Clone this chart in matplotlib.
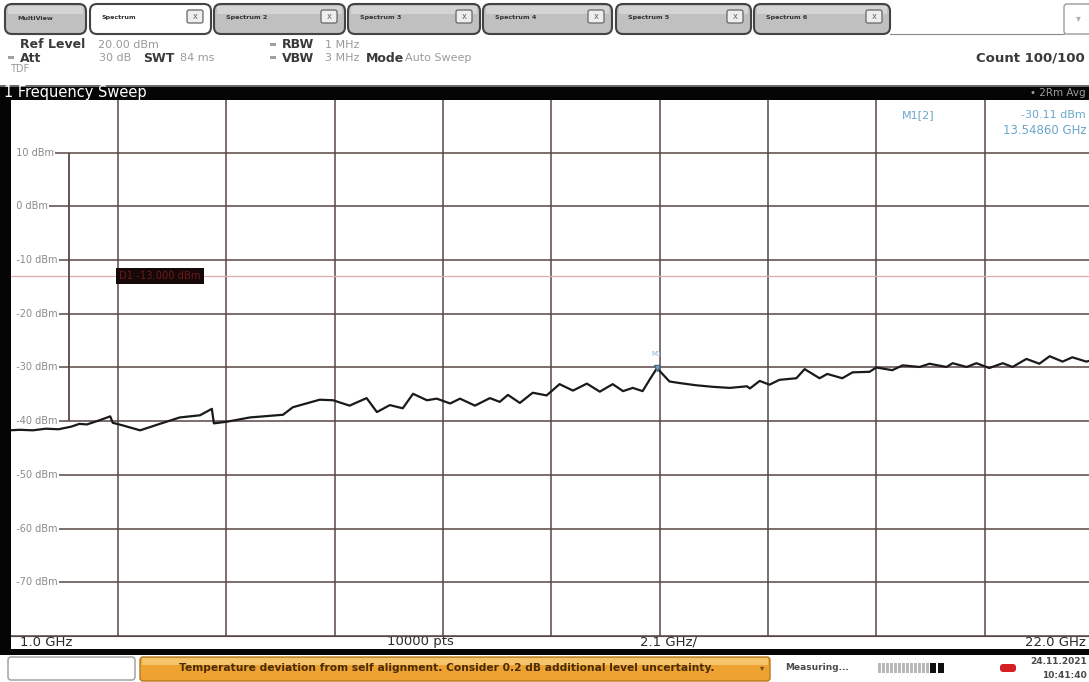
import matplotlib
matplotlib.use("Agg")
import matplotlib.pyplot as plt
from matplotlib.patches import Rectangle, FancyBboxPatch

# ---- sweep settings -------------------------------------------------------
f_start_ghz = 1.0
f_stop_ghz = 22.0
f_per_div_ghz = 2.1
ref_level_dbm = 20.0
db_per_div = 10.0
n_divs = 10
y_tick_levels = [10, 0, -10, -20, -30, -40, -50, -60, -70]
display_line_dbm = -13.0
aux_line_freq_ghz = 2.15
aux_line_span_dbm = (10.0, -40.0)

# ---- averaged trace (GHz, dBm) --------------------------------------------
freq_ghz = [1.00, 1.20, 1.45, 1.70, 1.95, 2.20, 2.35, 2.50, 2.75, 2.95,
            3.00, 3.20, 3.53, 3.91, 4.30, 4.69, 4.92, 4.96, 5.21, 5.66,
            6.30, 6.49, 7.01, 7.27, 7.59, 7.92, 8.12, 8.37, 8.62, 8.82,
            9.09, 9.28, 9.54, 9.73, 10.02, 10.31, 10.50, 10.66, 10.89, 11.14,
            11.41, 11.66, 11.92, 12.19, 12.44, 12.69, 12.89, 13.08, 13.27, 13.41,
            13.5486, 13.79, 13.99, 14.30, 14.63, 14.96, 15.29, 15.35, 15.54, 15.73,
            15.92, 16.25, 16.41, 16.70, 16.85, 17.14, 17.34, 17.67, 17.80, 18.11,
            18.31, 18.64, 18.83, 19.16, 19.28, 19.55, 19.74, 19.99, 20.25, 20.44,
            20.71, 20.96, 21.16, 21.41, 21.60, 21.87, 22.00]
level_dbm = [-41.7, -41.6, -41.7, -41.4, -41.5, -41.0, -40.5, -40.6, -39.8, -39.1,
             -40.3, -40.8, -41.7, -40.5, -39.3, -38.9, -37.7, -40.4, -40.1, -39.3,
             -38.8, -37.4, -36.0, -36.1, -37.1, -35.7, -38.3, -37.0, -37.6, -34.9,
             -36.1, -35.8, -36.7, -35.8, -37.1, -35.7, -36.4, -35.1, -36.6, -34.7,
             -35.2, -33.1, -34.3, -33.0, -34.5, -33.1, -34.4, -33.8, -34.4, -32.2,
             -30.11, -32.6, -32.9, -33.3, -33.6, -33.8, -33.5, -33.9, -32.5, -33.2,
             -32.3, -32.0, -30.3, -32.0, -31.2, -32.0, -30.9, -30.8, -30.0, -30.5,
             -29.6, -29.9, -29.3, -29.9, -29.2, -29.9, -29.2, -30.1, -29.2, -29.9,
             -28.4, -29.3, -27.9, -28.9, -28.1, -28.9, -28.6]

marker_freq_ghz = 13.5486
marker_level_dbm = -30.11

tab_names = ["MultiView", "Spectrum", "Spectrum 2", "Spectrum 3",
             "Spectrum 4", "Spectrum 5", "Spectrum 6"]
tab_spans = [(5, 86), (90, 211), (214, 345), (348, 480),
             (483, 612), (616, 751), (754, 890)]
active_tab = 1

W, H = 1089, 682
fig = plt.figure(figsize=(W / 100, H / 100), dpi=100)
fig.patch.set_facecolor("white")
plt.rcParams["font.family"] = ["DejaVu Sans"]

# pixel-space canvas for the instrument frame
ui = fig.add_axes([0, 0, 1, 1], zorder=0)
ui.set_xlim(0, W)
ui.set_ylim(H, 0)
ui.axis("off")

# ---- tab strip ---------------------------------------------------------------
for i, (name, (x0, x1)) in enumerate(zip(tab_names, tab_spans)):
    active = i == active_tab
    face = "white" if active else "#c0c0c0"
    ui.add_patch(FancyBboxPatch((x0, 4), x1 - x0, 30,
                                boxstyle="round,pad=0,rounding_size=7",
                                fc=face, ec="#444444", lw=1.5))
    if not active:
        ui.add_patch(Rectangle((x0 + 3, 6), x1 - x0 - 6, 8, fc="#d4d4d4", ec="none"))
    ui.text(x0 + 12, 18, name, fontsize=4.6, fontweight="bold",
            color="#333333", va="center", ha="left")
    if i > 0:
        cx = x1 - 24
        ui.add_patch(FancyBboxPatch((cx, 10), 16, 13,
                                    boxstyle="round,pad=0,rounding_size=2",
                                    fc="#eeeeee", ec="#666666", lw=0.9))
        ui.text(cx + 8, 16.5, "x", fontsize=6, color="#666666",
                ha="center", va="center")
ui.add_patch(FancyBboxPatch((1064, 4), 30, 30, boxstyle="round,pad=0,rounding_size=3",
                            fc="white", ec="#9a9a9a", lw=1.0))
ui.text(1078, 18, "\u25be", fontsize=7, color="#b0b0b0", ha="center", va="center")
ui.plot([890, 1064], [34, 34], color="#888888", lw=0.8)

# ---- setting summary -----------------------------------------------------------
lab = dict(fontsize=9, fontweight="bold", color="#3a3a3a", va="center")
val = dict(fontsize=8, color="#9a9a9a", va="center")
ui.text(20, 45, "Ref Level", **lab)
ui.text(98, 45, "20.00 dBm", **val)
ui.add_patch(Rectangle((8, 56), 6, 3, fc="#a0a0a0", ec="none"))
ui.text(20, 58, "Att", **lab)
ui.text(131, 58, "30 dB", ha="right", **val)
ui.text(143, 58, "SWT", **lab)
ui.text(180, 58, "84 ms", **val)
ui.add_patch(Rectangle((270, 43), 6, 3, fc="#a0a0a0", ec="none"))
ui.text(282, 45, "RBW", **lab)
ui.text(325, 45, "1 MHz", **val)
ui.add_patch(Rectangle((270, 56), 6, 3, fc="#a0a0a0", ec="none"))
ui.text(282, 58, "VBW", **lab)
ui.text(325, 58, "3 MHz", **val)
ui.text(366, 58, "Mode", **lab)
ui.text(405, 58, "Auto Sweep", **val)
ui.text(10, 69, "TDF", fontsize=7, color="#9a9a9a", va="center")
ui.text(1085, 58, "Count 100/100", fontsize=9.5, fontweight="bold",
        color="#3a3a3a", ha="right", va="center")

bot = dict(fontsize=9.5, color="#2a2a2a", va="center")
ui.text(20, 642, f"{f_start_ghz:.1f} GHz", ha="left", **bot)
ui.text(420, 642, "10000 pts", ha="center", **bot)
ui.text(668, 642, f"{f_per_div_ghz:.1f} GHz/", ha="center", **bot)
ui.text(1086, 642, f"{f_stop_ghz:.1f} GHz", ha="right", **bot)

# ---- status line ---------------------------------------------------------------
ui.add_patch(FancyBboxPatch((8, 657), 127, 23, boxstyle="round,pad=0,rounding_size=3",
                            fc="white", ec="#9a9a9a", lw=1.0))
ui.add_patch(FancyBboxPatch((140, 657), 630, 24, boxstyle="round,pad=0,rounding_size=3",
                            fc="#eea232", ec="#b57a1c", lw=1.0))
ui.add_patch(Rectangle((142, 658), 626, 7, fc="#f6c46a", ec="none"))
ui.text(447, 668, "Temperature deviation from self alignment. Consider 0.2 dB "
        "additional level uncertainty.", fontsize=7.7, fontweight="bold",
        color="#4a2c05", ha="center", va="center")
ui.text(762, 668, "\u25be", fontsize=6, color="#6a4a10", ha="center", va="center")
ui.text(785, 668, "Measuring...", fontsize=6.5, fontweight="bold",
        color="#4a4a4a", va="center")
for k in range(13):
    ui.add_patch(Rectangle((878 + k * 4, 663), 3, 10, fc="#b8b8b8", ec="none"))
ui.add_patch(Rectangle((930, 663), 6, 10, fc="#101010", ec="none"))
ui.add_patch(Rectangle((938, 663), 6, 10, fc="#101010", ec="none"))
ui.add_patch(FancyBboxPatch((1000, 664), 16, 8, boxstyle="round,pad=0,rounding_size=3",
                            fc="#d42020", ec="none"))
ui.text(1087, 662, "24.11.2021", fontsize=6.5, fontweight="bold",
        color="#4a4a4a", ha="right", va="center")
ui.text(1087, 675, "10:41:40", fontsize=6.5, fontweight="bold",
        color="#4a4a4a", ha="right", va="center")

# ---- measurement diagram ----------------------------------------------------
px_left, px_right, px_top, px_bot = 9.6, 1093.0, 99.0, 636.0
ax = fig.add_axes([px_left / W, 1 - px_bot / H, (px_right - px_left) / W,
                   (px_bot - px_top) / H], zorder=1)
ax.set_facecolor("white")
ax.set_xlim(f_start_ghz, f_stop_ghz)
ax.set_ylim(ref_level_dbm - n_divs * db_per_div, ref_level_dbm)
ax.set_xticks([f_start_ghz + k * f_per_div_ghz for k in range(n_divs + 1)])
ax.set_yticks([ref_level_dbm - k * db_per_div for k in range(n_divs + 1)])
ax.grid(True, color="#5a4646", lw=1.1)
ax.tick_params(length=0, labelleft=False, labelbottom=False)
for side in ("top", "right", "left"):
    ax.spines[side].set_visible(False)
ax.spines["bottom"].set_color("#5a4646")

ax.axhline(display_line_dbm, color="#dcaaaa", lw=0.9, zorder=2)
ax.text(f_start_ghz + f_per_div_ghz + 0.03, display_line_dbm,
        f"D1 {display_line_dbm:.3f} dBm", fontsize=7.2, color="#6e1a1a",
        ha="left", va="center", zorder=4,
        bbox=dict(boxstyle="square,pad=0.3", fc="#160808", ec="none"))
ax.vlines(aux_line_freq_ghz, aux_line_span_dbm[1], aux_line_span_dbm[0],
          color="#5a4646", lw=1.3, zorder=2)

ytr = ax.get_yaxis_transform()
for lv in y_tick_levels:
    ax.text(0.0, lv, f"  {lv} dBm", transform=ytr, fontsize=7, color="#8a8a8a",
            ha="left", va="center", zorder=3,
            bbox=dict(boxstyle="square,pad=0.15", fc="white", ec="none"))

ax.plot(freq_ghz, level_dbm, color="#1a1a1a", lw=1.6, zorder=5)

ax.plot(marker_freq_ghz, marker_level_dbm, marker="v", ms=4, color="#7aa8c8",
        mec="#4a6a80", zorder=6)
ax.text(marker_freq_ghz, marker_level_dbm + 2.0, "M1", fontsize=5, color="#8ab0cc",
        ha="center", va="bottom", zorder=6)

# ---- overlay: window frame, title bar and marker readout -----------------------
ui2 = fig.add_axes([0, 0, 1, 1], zorder=2)
ui2.set_xlim(0, W)
ui2.set_ylim(H, 0)
ui2.axis("off")
ui2.patch.set_alpha(0)
ui2.add_patch(Rectangle((0, 85), W, 15, fc="#050505", ec="none"))
ui2.add_patch(Rectangle((0, 85), W, 2, fc="#6a6a6a", ec="none"))
ui2.text(4, 93, "1 Frequency Sweep", fontsize=10.5, color="white", va="center")
ui2.text(1086, 93, "\u2022 2Rm Avg", fontsize=7.5, color="#9a9a9a",
         ha="right", va="center")
ui2.add_patch(Rectangle((0, 100), 10.5, 555, fc="#050505", ec="none"))
ui2.add_patch(Rectangle((0, 649), W, 6, fc="#050505", ec="none"))
ui2.text(902, 115, "M1[2]", fontsize=8, color="#6aa6cc", va="center")
ui2.text(1086, 115, f"{marker_level_dbm:.2f} dBm", fontsize=8, color="#6aa6cc",
         ha="right", va="center")
ui2.text(1003, 130, f"{marker_freq_ghz:.5f} GHz", fontsize=8.5, color="#6aa6cc",
         ha="left", va="center")

fig.savefig("out.png", dpi=100, facecolor="white")
